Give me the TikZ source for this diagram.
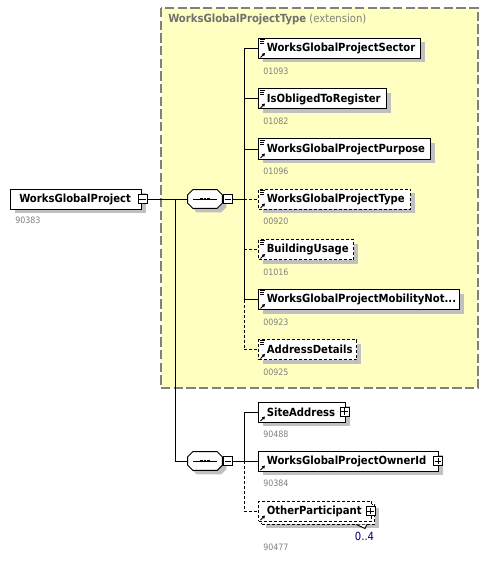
\documentclass[tikz,border=0pt]{standalone}
\usepackage{fontspec}
\setmainfont{Liberation Sans}
\newfontfamily\tah{DejaVu Sans Condensed}
\usetikzlibrary{shadows,arrows.meta}
\definecolor{yel}{RGB}{255,255,194}
\definecolor{idgray}{RGB}{128,128,128}
\definecolor{ttlgray}{RGB}{112,112,112}
\definecolor{shdcol}{RGB}{192,192,192}
\definecolor{framecol}{RGB}{128,128,128}
\definecolor{occ}{RGB}{0,0,110}
\tikzset{
  base/.style={line width=0.75pt},
  boxshadow/.style={drop shadow={shadow xshift=3pt,shadow yshift=-3pt,fill=shdcol,opacity=1}},
  elemflat/.style={draw,fill=white,line width=0.75pt,minimum height=15pt,inner sep=0pt,anchor=west},
  elem/.style={elemflat,boxshadow},
  optional/.style={dash pattern=on 2.25pt off 1.5pt},
  ename/.style={anchor=west,inner sep=0pt,font=\tah\bfseries\fontsize{8.4pt}{10pt}\selectfont},
  eid/.style={anchor=west,inner sep=0pt,text=idgray,font=\tah\fontsize{6.6pt}{8pt}\selectfont},
  pmbox/.style={draw,fill=white,line width=0.75pt,minimum size=6.75pt,inner sep=0pt},
  seqhit/.style={minimum width=25.5pt,minimum height=13.5pt,inner sep=0pt},
}
% element box: name, y centre, width, text, extra style, id
\newcommand\xelem[6]{%
  \node[elem,#5,minimum width=#3] (#1) at (258,#2) {};
  \node[ename] (#1-t) at ([xshift=6.4pt]#1.west) {#4};
  \node[eid] (#1-id) at ([shift={(5,22.5)}]#1.west) {#6};
}
\newcommand\lineicon[1]{%
  \draw[line width=0.6pt] ([shift={(2,1.5)}]#1.north west) -- ++(5,0)
    ([shift={(2,3.5)}]#1.north west) -- ++(4,0)
    ([shift={(2,5.5)}]#1.north west) -- ++(4,0);}
\newcommand\refarrow[1]{%
  \draw[line width=0.75pt,-{Triangle[length=2.2pt,width=2.4pt]}] ([shift={(2.5,-1.5)}]#1.south west) -- ++(4.5,-4.5);}
\newcommand\seqshape[1]{%
  \draw[base,fill=white,boxshadow] ([xshift=3.75pt]#1.north west) -- ([xshift=-3.75pt]#1.north east)
   -- ([yshift=-3.75pt]#1.north east) -- ([yshift=3.75pt]#1.south east)
   -- ([xshift=-3.75pt]#1.south east) -- ([xshift=3.75pt]#1.south west)
   -- ([yshift=3.75pt]#1.south west) -- ([yshift=-3.75pt]#1.north west) -- cycle;
  \draw[base] ([xshift=-9]#1.center) -- ([xshift=9]#1.center);
  \foreach \dx in {-3.6,0,3.6}{\fill ([shift={(\dx-1.4,-1.4)}]#1.center) rectangle ++(2.8,2.8);}
}
\newcommand\minussign[1]{\draw[base] ([xshift=-2.6]#1.center) -- ([xshift=2.6]#1.center);}
\newcommand\plussign[1]{\draw[base] ([xshift=-2.6]#1.center) -- ([xshift=2.6]#1.center)
  ([yshift=-2.6]#1.center) -- ([yshift=2.6]#1.center);}
\begin{document}
\begin{tikzpicture}[x=0.75pt,y=-0.75pt]
\useasboundingbox (0,0) rectangle (490,563);
\fill[white] (0,0) rectangle (490,563);

% extension frame
\draw[line width=0.9pt,draw=framecol,fill=yel,dash pattern=on 7pt off 2.5pt] (161,8) rectangle (478,388);
\node[anchor=west,inner sep=0pt,font=\tah\fontsize{8.4pt}{10pt}\selectfont] (ttl) at (168,19.5)
  {\textcolor{ttlgray}{\bfseries WorksGlobalProjectType} \textcolor{idgray}{(extension)}};

% root
\node[elem,minimum width=98.25pt] (root) at (10,199) {};
\node[ename] (root-t) at ([xshift=6.75pt]root.west) {WorksGlobalProject};
\node[eid] (root-id) at ([shift={(5,21.5)}]root.west) {90383};
\node[pmbox] (rootm) at (142.5,199) {}; \minussign{rootm}

% sequences
\node[seqhit] (seq1) at (205,199) {}; \seqshape{seq1}
\node[pmbox] (seq1m) at (228,199) {}; \minussign{seq1m}
\node[seqhit] (seq2) at (205,461) {}; \seqshape{seq2}
\node[pmbox] (seq2m) at (228,461) {}; \minussign{seq2m}

% children of the extension sequence
\xelem{sector}{48.5}{121.5pt}{WorksGlobalProjectSector}{}{01093}
\xelem{obliged}{99}{96pt}{IsObligedToRegister}{}{01082}
\xelem{purpose}{149}{129pt}{WorksGlobalProjectPurpose}{}{01096}
\xelem{gtype}{199}{114pt}{WorksGlobalProjectType}{optional}{00920}
\xelem{usage}{249.5}{71.25pt}{BuildingUsage}{optional}{01016}
\xelem{mobility}{299.5}{150.75pt}{WorksGlobalProjectMobilityNot...}{}{00923}
\xelem{addr}{349.5}{73.5pt}{AddressDetails}{optional}{00925}
\foreach \n in {sector,obliged,purpose,gtype,usage,mobility,addr}{\lineicon{\n}\refarrow{\n}}

% children of the second sequence
\xelem{site}{412}{65.25pt}{SiteAddress}{}{90488}
\xelem{owner}{461}{135pt}{WorksGlobalProjectOwnerId}{}{90384}
\node[elem,optional,minimum width=84.75pt] (other-b) at (261,514) {};
\node[elemflat,optional,minimum width=84.75pt] (other) at (258,511) {};
\node[ename] (other-t) at ([xshift=6.4pt]other.west) {OtherParticipant};
\node[eid] (other-id) at ([shift={(5,36)}]other.west) {90477};
\draw[base,fill=white] ([xshift=-14]other-b.south east) -- ([shift={(-10,4)}]other-b.south east) -- ([xshift=-6]other-b.south east);
\node[anchor=center,inner sep=0pt,text=occ,font=\tah\fontsize{8.4pt}{10pt}\selectfont] (other-occ) at (364.5,536) {0..4};
\foreach \n in {site,owner,other}{\refarrow{\n}}
\node[pmbox] (sitep) at (344.5,411.5) {}; \plussign{sitep}
\node[pmbox] (ownerp) at (438,461) {}; \plussign{ownerp}
\node[pmbox] (otherp) at (370.5,511) {}; \plussign{otherp}

% connectors
\coordinate (j1) at (175,199);
\coordinate (b1) at (244,199);
\draw[base] (rootm.east) -- (seq1.west);
\draw[base] (j1) |- (seq2.west);
\draw[base] (seq1m.east) -- (b1);
\draw[base] (sector.west -| b1) -- (mobility.west -| b1);
\draw[base,optional] (mobility.west -| b1) -- (addr.west -| b1);
\foreach \n in {sector,obliged,purpose,mobility}{\draw[base] (\n.west -| b1) -- (\n.west);}
\foreach \n in {gtype,usage,addr}{\draw[base,optional] (\n.west -| b1) -- (\n.west);}

\coordinate (b2) at (244,461);
\draw[base] (seq2m.east) -- (b2);
\draw[base] (site.west -| b2) -- (owner.west -| b2);
\draw[base,optional] (owner.west -| b2) -- (other.west -| b2);
\foreach \n in {site,owner}{\draw[base] (\n.west -| b2) -- (\n.west);}
\draw[base,optional] (other.west -| b2) -- (other.west);
\end{tikzpicture}
\end{document}
